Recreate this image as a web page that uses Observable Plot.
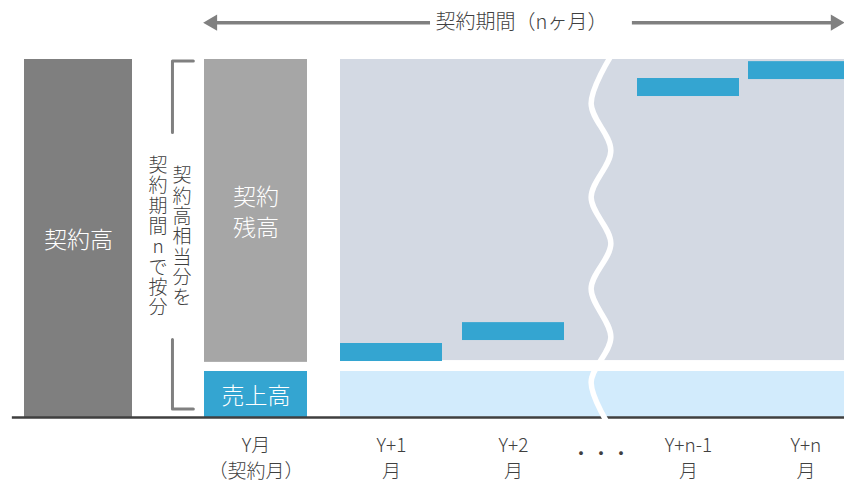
<!DOCTYPE html>
<html><head><meta charset="utf-8">
<script src="https://cdn.jsdelivr.net/npm/d3@7"></script>
<script src="https://cdn.jsdelivr.net/npm/@observablehq/plot@0.6"></script>
<style>
html,body{margin:0;padding:0;background:#fff;overflow:hidden;}
#chart svg{display:block;overflow:hidden;}
</style></head><body><div id="chart"></div>
<script>
// ---------- data (x = month slot, y = amount with 契約高 = 100) ----------
const columnNames = ["契約高", "Y月", "Y+1", "Y+2", "Y+n-1", "Y+n"];
const columnSlot = [-1, 0, 1, 2, 3, 4];
const ellipsisSlot = 2.5;

// stacked bars on the left
const stackNames = ["契約高", "契約残高", "売上高"];
const stackLabels = ["契約高", "契約\n残高", "売上高"];
const stackSlot = [-1, 0, 0];
const stackLow = [0, 15.4, 0];
const stackHigh = [100, 100, 12.85];

// background panels for the following months
const panelNames = ["契約残高", "売上高"];
const panelLow = [15.9, 0];
const panelHigh = [100, 12.85];
const panelSlots = [1, 4];

// monthly recognised portions
const segSlot = [1, 2, 3, 4];
const segLow = [15.64, 21.5, 89.66, 94.4];
const segHigh = [20.67, 26.5, 94.69, 99.4];

// tick labels
const monthLabels = ["Y月\n（契約月）", "Y+1\n月", "Y+2\n月", "Y+n-1\n月", "Y+n\n月"];
const monthSlot = [0, 1, 2, 3, 4.05];
const ellipsisLabel = "・・・";

// annotations
const titleText = "契約期間（nヶ月）";
const titleSlot = 2.063;
const arrowLevel = 110.3;
const arrowLeft = [-0.338, 1.306];
const arrowRight = [2.586, 4.30];
const bracketTexts = ["契約高相当分を", "契約期間nで按分"];
const bracketTextSlot = [-0.4625, -0.529];
const bracketTextLevel = 50.5;
const bracketSlot = [-0.431, -0.489];
const bracketTop = [99.6, 79.6];
const bracketBottom = [21.8, 2.4];

// break (wavy) line
const waveSlot = [2.525, 2.473, 2.527, 2.473, 2.527, 2.473, 2.527, 2.473, 2.527];
const waveLevel = [100.6, 87.7, 74.6, 61.5, 48.6, 36.0, 22.4, 9.8, -3.1];

// ---------- build ----------
const colors = {"契約高": "#7f7f7f", "契約残高": "#a6a6a6", "売上高": "#34a5d1"};
const panelColors = {"契約残高": "#d3d9e3", "売上高": "#d2ebfc"};
const half = 0.4;

const stacks = stackNames.map((name, i) => ({
  name, label: stackLabels[i], x1: stackSlot[i] - half, x2: stackSlot[i] + half,
  y1: stackLow[i], y2: stackHigh[i], mid: (stackLow[i] + stackHigh[i]) / 2, x: stackSlot[i]
}));
const panels = panelNames.map((name, i) => ({
  name, x1: panelSlots[0] - half, x2: panelSlots[1] + half, y1: panelLow[i], y2: panelHigh[i]
}));
const segs = segSlot.map((s, i) => ({x1: s - half, x2: s + half, y1: segLow[i], y2: segHigh[i]}));
const months = monthSlot.map((s, i) => ({x: s, label: monthLabels[i]}));
const wave = waveSlot.map((x, i) => ({x, y: waveLevel[i]}));
const bracket = [
  {g: 0, x: bracketSlot[0], y: bracketTop[0]},
  {g: 0, x: bracketSlot[1], y: bracketTop[0]},
  {g: 0, x: bracketSlot[1], y: bracketTop[1]},
  {g: 1, x: bracketSlot[1], y: bracketBottom[0]},
  {g: 1, x: bracketSlot[1], y: bracketBottom[1]},
  {g: 1, x: bracketSlot[0], y: bracketBottom[1]}
];
const vtexts = bracketTexts.map((t, i) => ({x: bracketTextSlot[i], y: bracketTextLevel, text: t.split("").join("\n")}));
const arrows = [
  {x1: arrowLeft[0], x2: arrowLeft[1]},
  {x1: arrowRight[0], x2: arrowRight[1]}
];
const heads = [
  {x: arrowLeft[0], r: -90},
  {x: arrowRight[1] - 0.018, r: 90}
];

const font = "'Noto Sans CJK JP', 'Noto Sans', sans-serif";
const textGray = "#404040";

const chart = Plot.plot({
  width: 844, height: 480,
  marginTop: 59, marginBottom: 63, marginLeft: 0, marginRight: 0,
  x: {type: "linear", domain: [-1.4, -0.6, -0.4, 0.4, 0.6, 1.4, 1.6, 2.4, 2.6, 3.4, 3.6, 4.4],
      range: [24, 132, 204, 307, 340, 442, 462, 564, 637, 739, 748, 850], axis: null},
  y: {domain: [0, 100], axis: null},
  color: {type: "identity"},
  style: {fontFamily: font, fontWeight: 300, background: "#fff", overflow: "hidden"},
  marks: [
    Plot.rect(panels, {x1: "x1", x2: "x2", y1: "y1", y2: "y2", fill: d => panelColors[d.name]}),
    Plot.rect(stacks, {x1: "x1", x2: "x2", y1: "y1", y2: "y2", fill: d => colors[d.name]}),
    Plot.rect(segs, {x1: "x1", x2: "x2", y1: "y1", y2: "y2", fill: colors["売上高"]}),
    Plot.ruleY([0], {x1: -1.49, x2: 4.4, stroke: "#3f3f3f", strokeWidth: 2.5}),
    Plot.line(wave, {x: "x", y: "y", curve: "catmull-rom", stroke: "#fff", strokeWidth: 5.5}),
    Plot.line(bracket, {x: "x", y: "y", z: "g", stroke: "#808080", strokeWidth: 3}),
    Plot.ruleY(arrows, {y: arrowLevel, x1: "x1", x2: "x2", stroke: "#808080", strokeWidth: 3.5}),
    Plot.dot(heads, {x: "x", y: arrowLevel, symbol: "triangle", r: 6, rotate: "r", fill: "#808080", stroke: "none"}),
    Plot.text([titleText], {x: titleSlot, y: arrowLevel, text: d => d, fontSize: 20, fill: textGray}),
    Plot.text(vtexts, {x: "x", y: "y", text: "text", fontSize: 19, lineHeight: 1.07, fill: textGray}),
    Plot.text(stacks, {x: "x", y: "mid", text: "label", fontSize: 23, lineHeight: 1.35, fill: "#fff"}),
    Plot.text(months, {x: "x", text: "label", frameAnchor: "bottom", dy: 39, lineAnchor: "middle", fontSize: 19, lineHeight: 1.35, fill: textGray}),
    Plot.text([ellipsisLabel], {x: ellipsisSlot, text: d => d, frameAnchor: "bottom", dy: 43, fontSize: 20, fill: textGray})
  ]
});
document.getElementById("chart").appendChild(chart);
</script></body></html>
